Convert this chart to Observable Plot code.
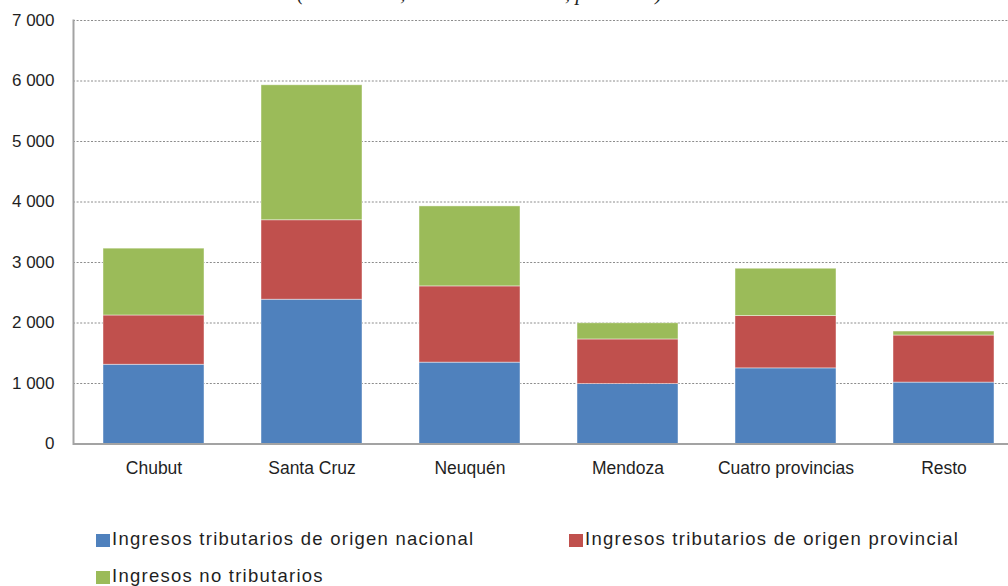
<!DOCTYPE html>
<html>
<head>
<meta charset="utf-8">
<script src="https://cdn.jsdelivr.net/npm/d3@7"></script>
<script src="https://cdn.jsdelivr.net/npm/@observablehq/plot@0.6"></script>
<style>
  html, body { margin: 0; padding: 0; background: #fff; }
  #wrap { position: relative; width: 1008px; height: 586px; overflow: hidden; font-family: "Liberation Sans", Arial, sans-serif; }
  #sub { position: absolute; left: 0; top: 0; width: 1008px; height: 9px; overflow: hidden; z-index: 2; }
  #sub span { position: absolute; left: 297px; top: -17px; font-family: "Liberation Serif", "Times New Roman", serif; font-style: italic; font-size: 21px; line-height: 21px; color: #222; white-space: nowrap; }
  #chart { position: absolute; left: 0; top: 0; }
  .leg { position: absolute; font-size: 18.5px; letter-spacing: 1.25px; color: #1f1f1f; white-space: nowrap; line-height: 1; }
  .leg i { position: absolute; width: 14px; height: 13px; }
  .leg span { position: absolute; }
</style>
</head>
<body>
<div id="wrap">
  <div id="sub"><span>(en millones, en términos reales, promedio)</span></div>
  <div id="chart"></div>
  <div id="legend"></div>
</div>
<script>
const categorias = ["Chubut", "Santa Cruz", "Neuquén", "Mendoza", "Cuatro provincias", "Resto"];
const series = [
  "Ingresos tributarios de origen nacional",
  "Ingresos tributarios de origen provincial",
  "Ingresos no tributarios"
];
const nacional = [1310, 2385, 1345, 990, 1250, 1015];
const provincial = [814, 1313, 1260, 738, 864, 778];
const noTributarios = [1105, 2231, 1322, 267, 783, 66];
const yTicks = [0, 1000, 2000, 3000, 4000, 5000, 6000, 7000];
const colores = ["#4F81BD", "#C0504D", "#9BBB59"];

const valores = [nacional, provincial, noTributarios];
const datos = [];
categorias.forEach((c, i) => {
  series.forEach((s, j) => datos.push({categoria: c, serie: s, valor: valores[j][i]}));
});

const fmt = d3.formatLocale({thousands: " ", grouping: [3], decimal: ","}).format(",.0f");

const H = 500;
const chart = Plot.plot({
  width: 1008,
  height: H,
  marginTop: 20,
  marginBottom: H - 443.5,
  marginLeft: 73,
  marginRight: 0,
  style: {fontFamily: "'Liberation Sans', Arial, sans-serif", color: "#1f1f1f", background: "transparent"},
  x: {domain: categorias, range: [73, 1024.6], paddingInner: 0.36, paddingOuter: 0.18, label: null},
  y: {domain: [0, 7000], label: null},
  color: {domain: series, range: colores},
  marks: [
    Plot.gridY(yTicks.filter(d => d > 0), {stroke: "#8c8c8c", strokeOpacity: 1, strokeWidth: 1, strokeDasharray: "2,1.6"}),
    Plot.barY(datos, {x: "categoria", y: "valor", fill: "serie", stroke: "#ffffff", strokeWidth: 0.8, strokeOpacity: 0.55, order: null}),
    Plot.ruleY([0], {stroke: "#a3a3a3", strokeWidth: 2}),
    Plot.frame({anchor: "left", stroke: "#a3a3a3", strokeWidth: 2}),
    Plot.axisY(yTicks, {tickSize: 0, tickPadding: 19, tickFormat: d => fmt(d), fontSize: 17, label: null}),
    Plot.axisX({tickSize: 0, tickPadding: 18, fontSize: 17.5, label: null})
  ]
});
document.getElementById("chart").appendChild(chart);

// legend
const legPos = [
  {sx: 96, sy: 533.5, tx: 112, base: 547},
  {sx: 569, sy: 533.5, tx: 585, base: 547},
  {sx: 96, sy: 570.5, tx: 112, base: 584}
];
const legend = document.getElementById("legend");
series.forEach((s, j) => {
  const p = legPos[j];
  const sw = document.createElement("i");
  sw.className = "leg";
  sw.style.cssText = `position:absolute;left:${p.sx}px;top:${p.sy}px;width:14px;height:13px;background:${colores[j]};`;
  legend.appendChild(sw);
  const t = document.createElement("div");
  t.className = "leg";
  t.textContent = s;
  t.style.left = p.tx + "px";
  t.style.top = (p.base - 17) + "px";
  legend.appendChild(t);
});
</script>
</body>
</html>
